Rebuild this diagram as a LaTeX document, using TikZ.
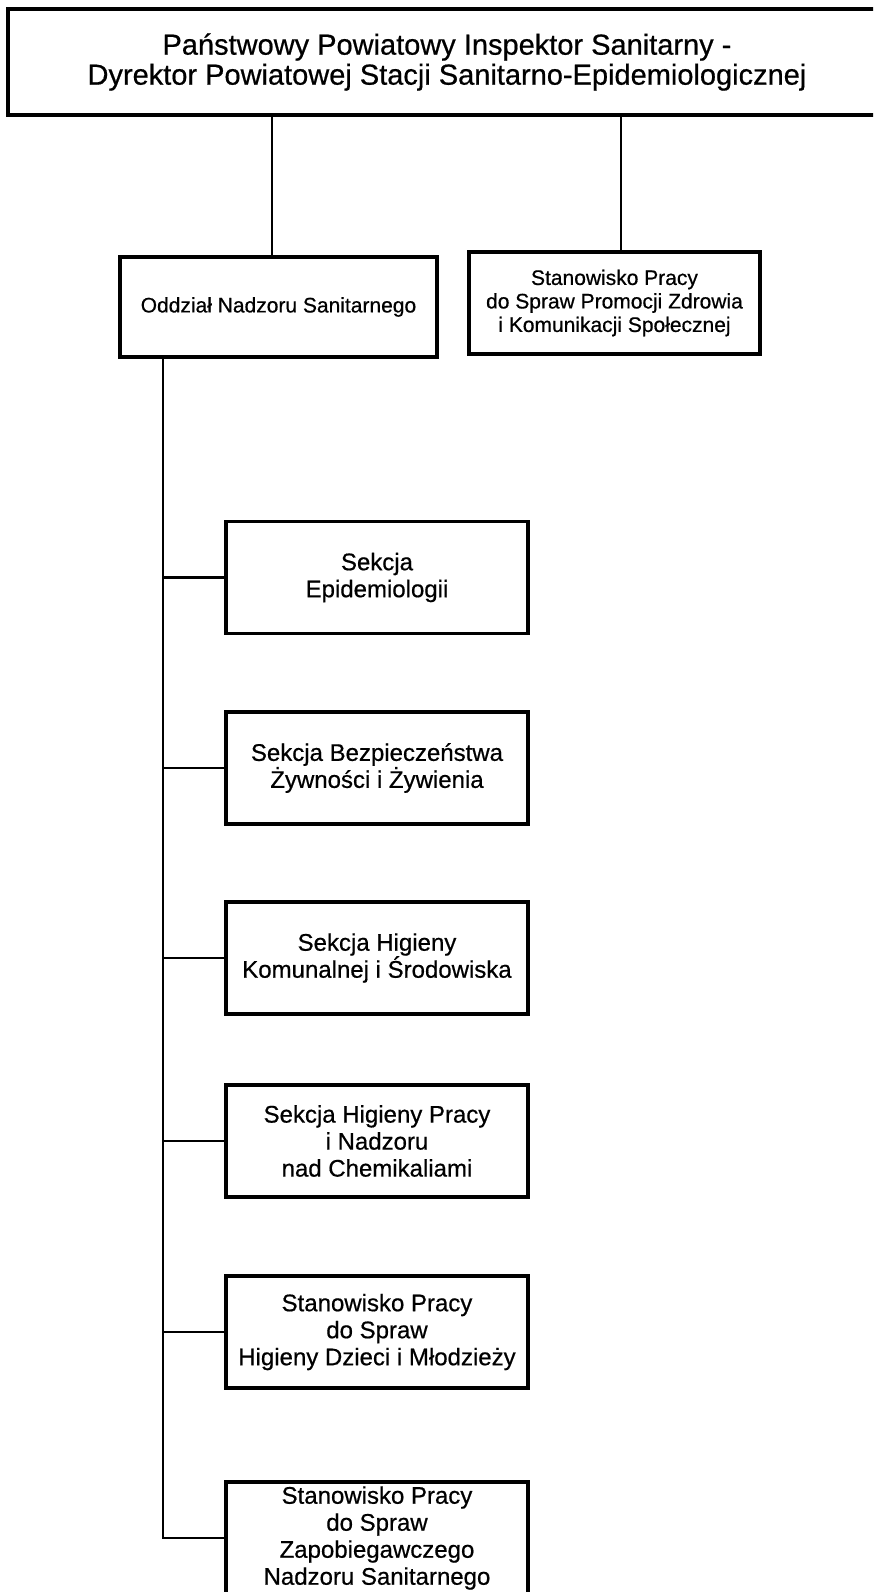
\documentclass[tikz,border=0pt]{standalone}
\usepackage{fontspec}
\setmainfont{Liberation Sans}[RawFeature={embolden=0.6}]
\usepackage{tikz}
\usetikzlibrary{positioning}

\begin{document}
\begin{tikzpicture}[x=1pt, y=-1pt]
    % Define styles
    \tikzstyle{box}=[draw=black, line width=3.5pt, fill=white, inner sep=0pt, align=center]
    \tikzstyle{head}=[box, minimum width=878pt, minimum height=106pt, font=\fontsize{29pt}{30pt}\selectfont]
    \tikzstyle{office}=[box, font=\fontsize{21pt}{23.5pt}\selectfont]
    \tikzstyle{unit}=[box, minimum width=302pt, minimum height=112pt, font=\fontsize{24pt}{27pt}\selectfont]
    \tikzstyle{link}=[draw=black, line width=2.6pt]

    % Page
    \clip (0,0) rectangle (873,1592);

    % Draw the upper boxes
    \node[head] (dyrektor) at (447,62) {Państwowy Powiatowy Inspektor Sanitarny -\\Dyrektor Powiatowej Stacji Sanitarno-Epidemiologicznej};
    \node[office, minimum width=317pt, minimum height=100pt] (oddzial) at (278.5,307) {Oddział Nadzoru Sanitarnego};
    \node[office, minimum width=291pt, minimum height=102pt] (promocja) at (614.5,303) {Stanowisko Pracy\\do Spraw Promocji Zdrowia\\i Komunikacji Społecznej};

    % Draw the sections
    \foreach \name/\y/\txt in {epidemiologia/577.5/{Sekcja\\Epidemiologii},
        zywnosc/768/{Sekcja Bezpieczeństwa\\Żywności i Żywienia},
        komunalna/958/{Sekcja Higieny\\Komunalnej i Środowiska},
        praca/1141/{Sekcja Higieny Pracy\\i Nadzoru\\nad Chemikaliami},
        mlodziez/1332/{Stanowisko Pracy\\do Spraw\\Higieny Dzieci i Młodzieży},
        zapobieganie/1538/{Stanowisko Pracy\\do Spraw\\Zapobiegawczego\\Nadzoru Sanitarnego}}
        \node[unit] (\name) at (377,\y) {\txt};

    % Draw the lines
    \coordinate (left) at (272,0);
    \coordinate (right) at (621,0);
    \coordinate (trunk) at (163,0);
    \draw[link] (dyrektor.south -| left) -- (oddzial.north -| left);
    \draw[link] (dyrektor.south -| right) -- (promocja.north -| right);
    \draw[link] (oddzial.south -| trunk) |- (zapobieganie.west);
    \foreach \name in {epidemiologia, zywnosc, komunalna, praca, mlodziez}
        \draw[link] (\name.west -| trunk) -- (\name.west);

\end{tikzpicture}
\end{document}
